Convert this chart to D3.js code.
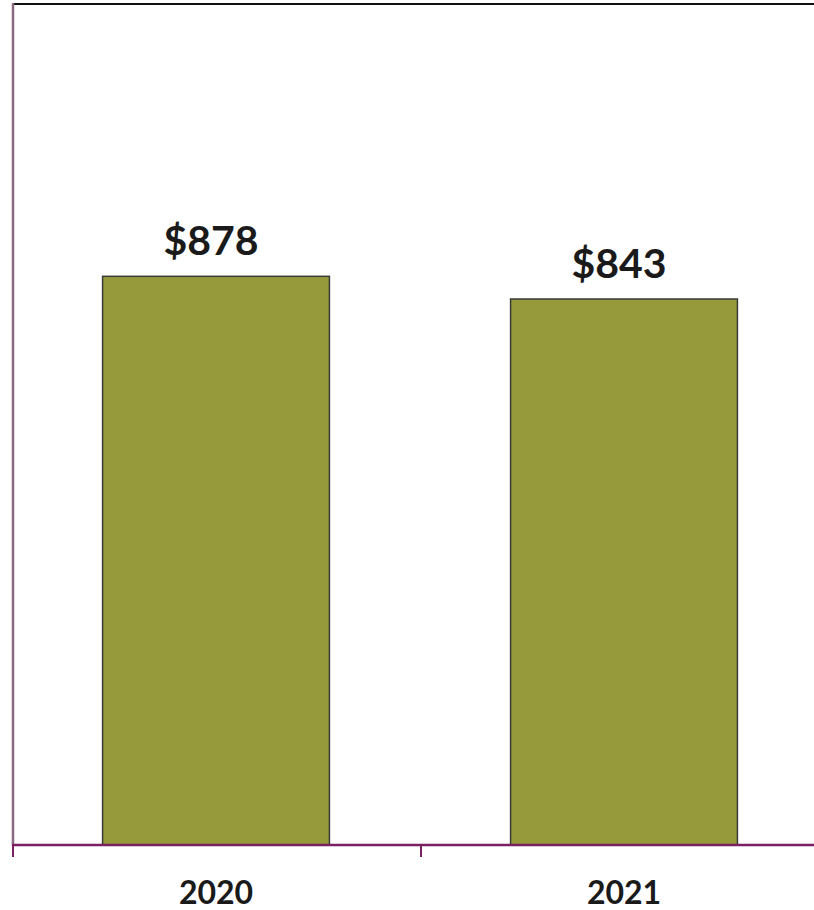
<!DOCTYPE html>
<html><head><meta charset="utf-8">
<script src="https://cdn.jsdelivr.net/npm/d3@7"></script>
<style>html,body{margin:0;padding:0;background:#fff;overflow:hidden}</style>
</head><body>
<svg id="c" width="814" height="910"></svg>
<script>
const categories = ["2020", "2021"];
const values = [878, 843];
const valueLabels = ["$878", "$843"];

const svg = d3.select("#c");
const x = d3.scaleBand().domain(categories).range([12, 828]).padding(0);
const y = d3.scaleLinear().domain([0, 1300]).range([845, 3]);
const barFrac = 0.556;

// top border
svg.append("line").attr("x1", 12).attr("x2", 814).attr("y1", 4).attr("y2", 4)
  .attr("stroke", "#111").attr("stroke-width", 2);
// left axis
svg.append("line").attr("x1", 13).attr("x2", 13).attr("y1", 3).attr("y2", 846)
  .attr("stroke", "#8a6a80").attr("stroke-width", 2.5);

// bars
svg.selectAll("rect.bar").data(categories).enter().append("rect")
  .attr("class", "bar")
  .attr("x", d => x(d) + x.bandwidth() * (1 - barFrac) / 2)
  .attr("width", x.bandwidth() * barFrac)
  .attr("y", (d, i) => y(values[i]))
  .attr("height", (d, i) => y(0) - y(values[i]))
  .attr("fill", "#969a3a").attr("stroke", "#3a3a3a").attr("stroke-width", 1.5);

// value labels
svg.selectAll("text.val").data(categories).enter().append("text")
  .attr("class", "val")
  .attr("x", d => x(d) + x.bandwidth() / 2 - 5)
  .attr("y", (d, i) => y(values[i]) - 21)
  .attr("text-anchor", "middle")
  .attr("font-family", "Lato, 'Open Sans', sans-serif").attr("font-weight", "bold")
  .attr("font-size", 41).attr("fill", "#1a1a1a")
  .text((d, i) => valueLabels[i]);

// x axis
const xAxis = d3.axisBottom(x).tickSize(0).tickFormat(d => d);
const gx = svg.append("g").attr("transform", "translate(0,845)").call(xAxis);
gx.select(".domain").remove();
gx.selectAll("text").attr("font-family", "Lato, 'Open Sans', sans-serif")
  .attr("font-weight", "bold").attr("font-size", 32).attr("fill", "#1a1a1a")
  .attr("dy", 0).attr("y", 59);
gx.selectAll(".tick line").remove();
svg.append("line").attr("x1", 12).attr("x2", 814).attr("y1", 845).attr("y2", 845)
  .attr("stroke", "#7a1f5f").attr("stroke-width", 2.5);
// tick marks at band boundaries
const bounds = categories.map(c => x(c)).concat([x(categories[categories.length-1]) + x.step()]);
svg.selectAll("line.tk").data(bounds).enter().append("line")
  .attr("class", "tk").attr("x1", d => d + 1).attr("x2", d => d + 1)
  .attr("y1", 845).attr("y2", 857).attr("stroke", "#7a1f5f").attr("stroke-width", 2);
</script>
</body></html>
